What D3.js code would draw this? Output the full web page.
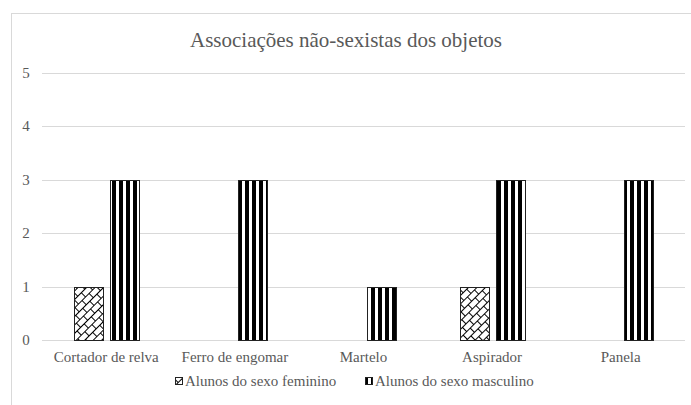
<!DOCTYPE html>
<html>
<head>
<meta charset="utf-8">
<script src="https://cdn.jsdelivr.net/npm/d3@7"></script>
<style>
  body { margin: 0; background: #fff; }
  svg { display: block; }
  text { font-family: "Liberation Serif", "Times New Roman", "DejaVu Serif", serif; }
</style>
</head>
<body>
<div id="chart"></div>
<script>
// data
var categories = ["Cortador de relva", "Ferro de engomar", "Martelo", "Aspirador", "Panela"];
var feminino = [1, 0, 0, 1, 0];
var masculino = [3, 3, 1, 3, 3];
var seriesNames = ["Alunos do sexo feminino", "Alunos do sexo masculino"];
var yTicks = [0, 1, 2, 3, 4, 5];

var width = 691, height = 405;
var margin = { left: 42, right: 6, top: 73, bottom: 65 };

var svg = d3.select("#chart").append("svg")
    .attr("width", width)
    .attr("height", height);

var defs = svg.append("defs");

// wide vertical stripes
var stripes = defs.append("pattern")
    .attr("id", "stripes")
    .attr("patternUnits", "userSpaceOnUse")
    .attr("width", 7)
    .attr("height", 7);
stripes.append("rect").attr("width", 7).attr("height", 7).attr("fill", "#fff");
stripes.append("rect").attr("x", 0).attr("width", 4).attr("height", 7).attr("fill", "#000");

// diagonal brick
var brick = defs.append("pattern")
    .attr("id", "brick")
    .attr("patternUnits", "userSpaceOnUse")
    .attr("width", 10)
    .attr("height", 12)
    .attr("patternTransform", "rotate(-45)");
brick.append("rect").attr("width", 10).attr("height", 12).attr("fill", "#fff");
brick.append("path")
    .attr("d", "M0,0.5 H10 M0,6.5 H10 M0.5,0.5 V6.5 M5.5,6.5 V12.5")
    .attr("stroke", "#000")
    .attr("stroke-width", 1)
    .attr("fill", "none");

// chart area border
svg.append("rect")
    .attr("x", 11.5).attr("y", 13.5)
    .attr("width", 700).attr("height", 420)
    .attr("fill", "none")
    .attr("stroke", "#d9d9d9");

var x0 = d3.scaleBand()
    .domain(categories)
    .range([margin.left, width - margin.right])
    .paddingInner(0)
    .paddingOuter(0);

var y = d3.scaleLinear()
    .domain([0, 5])
    .range([height - margin.bottom, margin.top]);

var barW = 29, gap = 7;

// gridlines
svg.append("g")
    .selectAll("line")
    .data(yTicks)
    .enter().append("line")
    .attr("x1", margin.left)
    .attr("x2", width - margin.right)
    .attr("y1", function (d) { return Math.round(y(d)) + 0.5; })
    .attr("y2", function (d) { return Math.round(y(d)) + 0.5; })
    .attr("stroke", "#d9d9d9")
    .attr("stroke-width", 1);

// y labels
svg.append("g")
    .selectAll("text")
    .data(yTicks)
    .enter().append("text")
    .attr("x", 26)
    .attr("y", function (d) { return y(d) + 5; })
    .attr("text-anchor", "middle")
    .attr("font-size", 15)
    .attr("fill", "#595959")
    .text(function (d) { return d; });

// bars
function drawBars(values, offset, fill) {
    svg.append("g")
        .selectAll("rect")
        .data(values.map(function (v, i) { return { c: categories[i], v: v }; })
            .filter(function (d) { return d.v > 0; }))
        .enter().append("rect")
        .attr("x", function (d) { return Math.round(x0(d.c) + x0.bandwidth() / 2 + offset) + 0.5; })
        .attr("y", function (d) { return Math.round(y(d.v)) + 0.5; })
        .attr("width", barW)
        .attr("height", function (d) { return Math.round(y(0)) - Math.round(y(d.v)); })
        .attr("fill", fill)
        .attr("stroke", "#222")
        .attr("stroke-width", 1);
}
drawBars(feminino, -gap / 2 - barW, "url(#brick)");
drawBars(masculino, gap / 2, "url(#stripes)");

// category labels
svg.append("g")
    .selectAll("text")
    .data(categories)
    .enter().append("text")
    .attr("x", function (d) { return x0(d) + x0.bandwidth() / 2; })
    .attr("y", 362)
    .attr("text-anchor", "middle")
    .attr("font-size", 15)
    .attr("fill", "#595959")
    .text(function (d) { return d; });

// title
svg.append("text")
    .attr("x", 346)
    .attr("y", 47)
    .attr("text-anchor", "middle")
    .attr("font-size", 21)
    .attr("fill", "#595959")
    .text("Associações não-sexistas dos objetos");

// legend
var legendX = [175, 365];
var fills = ["url(#brick)", "url(#stripes)"];
var lg = svg.append("g");
seriesNames.forEach(function (name, i) {
    lg.append("rect")
        .attr("x", legendX[i] + 0.5)
        .attr("y", 377.5)
        .attr("width", 7)
        .attr("height", 7)
        .attr("fill", fills[i])
        .attr("stroke", "#222");
    lg.append("text")
        .attr("x", legendX[i] + 10)
        .attr("y", 386)
        .attr("font-size", 15)
        .attr("fill", "#595959")
        .text(name);
});
</script>
</body>
</html>
